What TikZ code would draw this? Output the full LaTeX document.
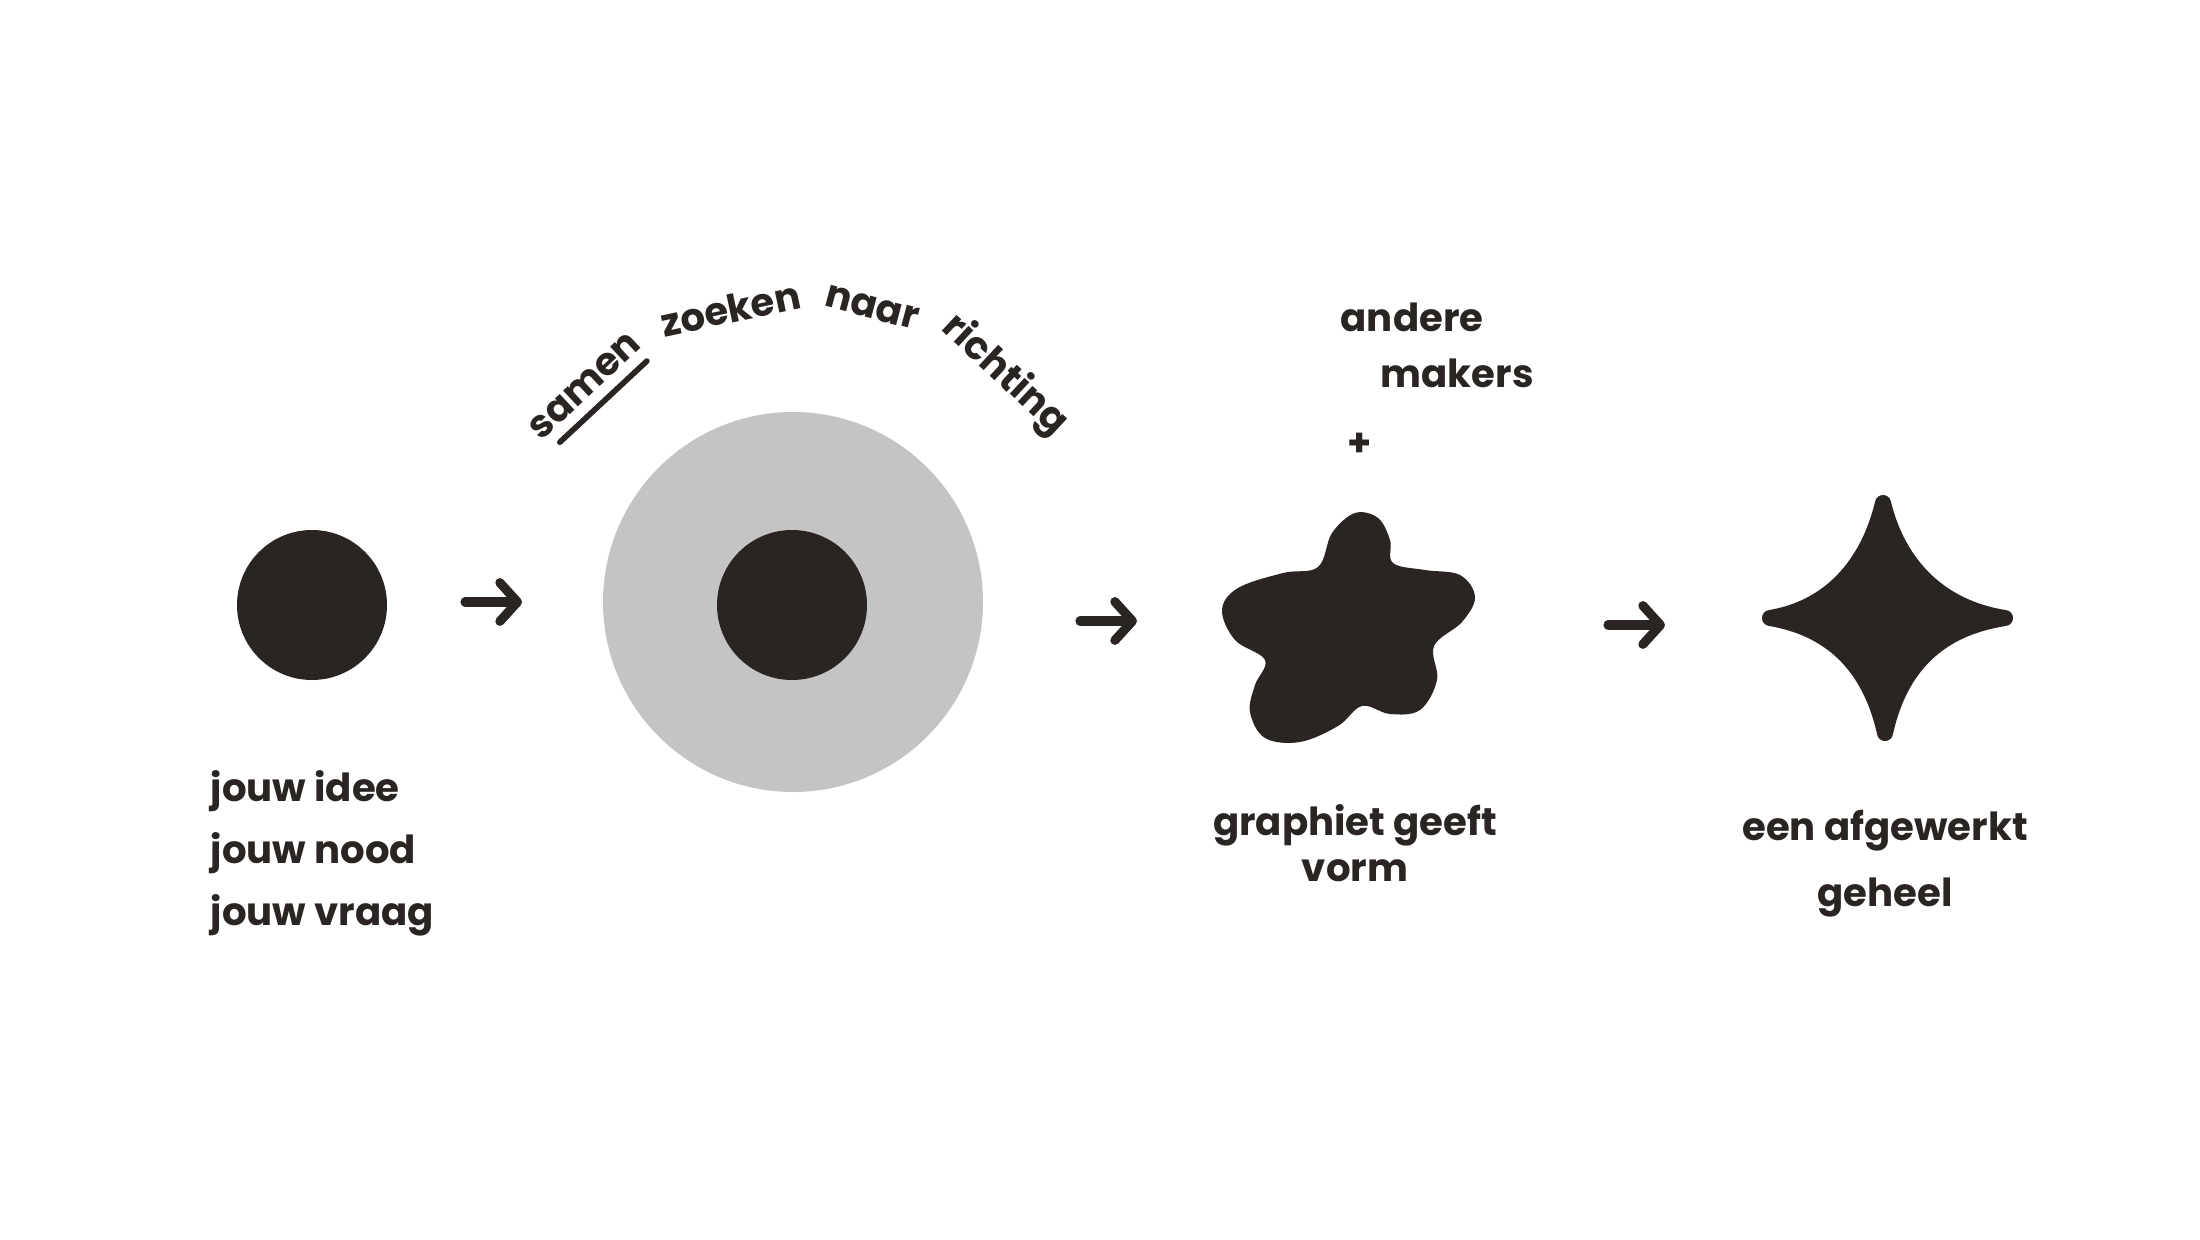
\documentclass[tikz,border=0pt]{standalone}
\usepackage{fontspec}
\setmainfont{Poppins}
\usetikzlibrary{arrows.meta,positioning,calc}
\definecolor{inkt}{HTML}{2A2523}
\definecolor{grijs}{HTML}{C4C4C4}

\begin{document}
\begin{tikzpicture}[x=0.1mm,y=-0.1mm,
  hand/.style={text=inkt, inner sep=0pt, font=\fontsize{11}{17.6}\selectfont\bfseries},
  bol/.style={circle, fill=inkt, minimum size=15mm, inner sep=0pt},
  pijl/.style={draw=inkt, line width=2.6pt, line cap=round, -{Straight Barb[length=5pt,width=11pt,round]}}]
\useasboundingbox[fill=white] (0,0) rectangle (2200,1240);

% stap 1: het idee
\node[bol] (idee) at (312,605) {};
\node[hand, align=left, anchor=north west] (jouw) at (210,770) {jouw idee\\jouw nood\\jouw vraag};

% stap 2: samen zoeken
\node[circle, fill=grijs, minimum size=38mm, inner sep=0pt] (ring) at (793,602) {};
\node[bol] (kern) at (792,605) {};
\node[hand, rotate=43] (samen) at ($(ring)+(-134:300)$) {samen};
\node[hand, rotate=12] (zoeken) at ($(ring)+(-102:300)$) {zoeken};
\node[hand, rotate=-15] (naar) at ($(ring)+(-75:305)$) {naar};
\node[hand, rotate=-43] (richting) at ($(ring)+(-47:310)$) {richting};
\draw[inkt, line width=1.6pt, line cap=round] ($(samen.south west)!0.15!(samen.south east)+(3,14)$) -- ($(samen.south east)+(3,14)$);

% stap 3: graphiet geeft vorm
\fill[inkt] plot[smooth cycle, tension=0.6] coordinates {
  (1355,513) (1378,518) (1390,540) (1393,563) (1425,570) (1460,575)
  (1475,597) (1462,622) (1434,646) (1437,680) (1420,710) (1390,714)
  (1362,706) (1338,726) (1300,742) (1265,738) (1250,712) (1255,685)
  (1265,660) (1235,640) (1222,610) (1238,588) (1283,573) (1318,567)
  (1332,533)};
\node[hand, anchor=north west] (andere) at (1340,302) {andere};
\node[hand, anchor=base west] (makers) at (1380,387) {makers};
\node[hand] (plus) at (1360,445) {+};
\node[hand, align=center, anchor=north, font=\fontsize{11}{13}\selectfont\bfseries] (vorm) at (1355,804) {graphiet geeft\\vorm};

% stap 4: het geheel
\filldraw[inkt, line width=1.6mm, line join=round]
  (1883,503) .. controls (1898,565) and (1940,608) .. (2005,618)
  .. controls (1940,628) and (1900,665) .. (1885,733)
  .. controls (1870,665) and (1830,628) .. (1770,618)
  .. controls (1830,608) and (1868,565) .. cycle;
\node[hand, align=center, anchor=north, font=\fontsize{11}{19}\selectfont\bfseries] (geheel) at (1885,809) {een afgewerkt\\geheel};

% pijlen
\coordinate (p1a) at (465,602);  \coordinate (p1b) at (522,602);
\coordinate (p2a) at (1080,621); \coordinate (p2b) at (1137,621);
\coordinate (p3a) at (1608,625); \coordinate (p3b) at (1665,625);
\draw[pijl] (p1a) -- (p1b);
\draw[pijl] (p2a) -- (p2b);
\draw[pijl] (p3a) -- (p3b);
\end{tikzpicture}
\end{document}
